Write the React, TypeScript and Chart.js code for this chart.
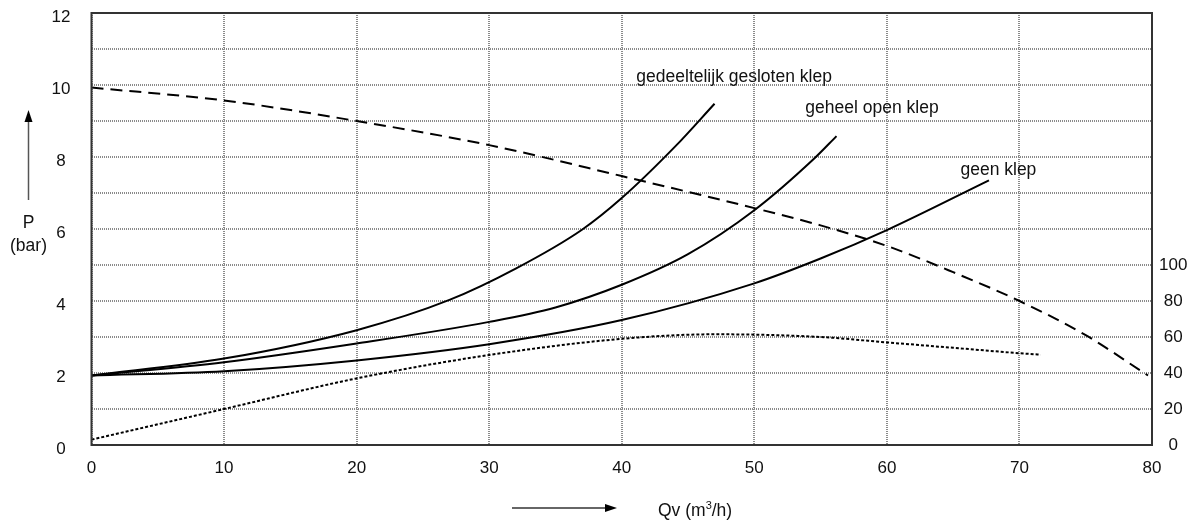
import React, { useEffect, useRef } from 'react';
import { Chart, registerables } from 'chart.js';

Chart.register(...registerables);

// ---- data ----
const pumpFlow = [0, 10, 20, 30, 40, 50, 55, 60, 65, 70, 75, 79.7];
const pumpPressure = [9.93, 9.57, 9.0, 8.33, 7.47, 6.58, 6.1, 5.53, 4.8, 4.0, 3.05, 1.93];

const partlyClosedFlow = [0, 10, 20, 27, 32, 37, 40, 44, 47];
const partlyClosedPressure = [1.93, 2.4, 3.19, 4.03, 4.9, 5.98, 6.86, 8.28, 9.48];

const fullyOpenFlow = [0, 10, 20, 30, 35, 40, 45, 50, 54.5, 56.2];
const fullyOpenPressure = [1.93, 2.3, 2.82, 3.42, 3.82, 4.45, 5.3, 6.52, 7.95, 8.58];

const noValveFlow = [0, 10, 20, 30, 40, 50, 55, 60, 67.7];
const noValvePressure = [1.93, 2.05, 2.35, 2.8, 3.47, 4.49, 5.18, 5.97, 7.35];

const efficiencyFlow = [0, 10, 20, 30, 40, 47, 55, 60, 65, 70, 71.6];
const efficiencyValue = [3, 20, 37, 50, 59, 61.5, 60, 57, 54, 51, 50.2];

const xTicks = [0, 10, 20, 30, 40, 50, 60, 70, 80];
const leftLabels = [0, 2, 4, 6, 8, 10, 12];
const rightLabels = [0, 20, 40, 60, 80, 100];

const curveLabels = ['gedeeltelijk gesloten klep', 'geheel open klep', 'geen klep'];
const curveLabelX = [41.1, 53.85, 65.55];
const curveLabelY = [10.08, 9.23, 7.5];

const xTitle = 'Qv (m';
const xTitleSup = '3';
const xTitleEnd = '/h)';
const yTitle1 = 'P';
const yTitle2 = '(bar)';

const FONT = '"Liberation Sans", Arial, Helvetica, sans-serif';

const toPts = (xs: number[], ys: number[]) => xs.map((x, i) => ({ x, y: ys[i] }));

const noPad = (s: any) => {
  s.paddingTop = 0;
  s.paddingBottom = 0;
  s.paddingLeft = 0;
  s.paddingRight = 0;
};

const decoPlugin = {
  id: 'deco',
  afterDraw(chart: any) {
    const { ctx, chartArea: a, scales } = chart;
    const xs = scales.x;
    const ys = scales.y;
    ctx.save();
    // frame
    ctx.strokeStyle = '#333';
    ctx.lineWidth = 2;
    ctx.strokeRect(a.left, a.top, a.right - a.left, a.bottom - a.top);

    // curve labels
    ctx.fillStyle = '#111';
    ctx.font = `17.5px ${FONT}`;
    ctx.textAlign = 'left';
    ctx.textBaseline = 'alphabetic';
    curveLabels.forEach((t, i) => {
      ctx.fillText(t, xs.getPixelForValue(curveLabelX[i]), ys.getPixelForValue(curveLabelY[i]));
    });

    // y title + arrow
    const yx = a.left - 63;
    ctx.textAlign = 'center';
    ctx.textBaseline = 'middle';
    ctx.fillText(yTitle1, yx, a.top + 210);
    ctx.fillText(yTitle2, yx, a.top + 233);
    ctx.strokeStyle = '#555';
    ctx.lineWidth = 1.5;
    ctx.beginPath();
    ctx.moveTo(yx, a.top + 187);
    ctx.lineTo(yx, a.top + 105);
    ctx.stroke();
    ctx.fillStyle = '#000';
    ctx.beginPath();
    ctx.moveTo(yx, a.top + 97);
    ctx.lineTo(yx - 4, a.top + 109);
    ctx.lineTo(yx + 4, a.top + 109);
    ctx.closePath();
    ctx.fill();

    // x title + arrow
    const ay = a.bottom + 63;
    ctx.strokeStyle = '#666';
    ctx.lineWidth = 2;
    ctx.beginPath();
    ctx.moveTo(512, ay);
    ctx.lineTo(607, ay);
    ctx.stroke();
    ctx.fillStyle = '#000';
    ctx.beginPath();
    ctx.moveTo(617, ay);
    ctx.lineTo(605, ay - 4);
    ctx.lineTo(605, ay + 4);
    ctx.closePath();
    ctx.fill();

    ctx.fillStyle = '#111';
    ctx.textAlign = 'left';
    ctx.textBaseline = 'alphabetic';
    const base = ay + 8;
    let tx = 658;
    ctx.font = `17.5px ${FONT}`;
    ctx.fillText(xTitle, tx, base);
    tx += ctx.measureText(xTitle).width;
    ctx.font = `11px ${FONT}`;
    ctx.fillText(xTitleSup, tx, base - 7);
    tx += ctx.measureText(xTitleSup).width;
    ctx.font = `17.5px ${FONT}`;
    ctx.fillText(xTitleEnd, tx, base);
    ctx.restore();
  },
};

export default function App() {
  const ref = useRef<HTMLCanvasElement | null>(null);

  useEffect(() => {
    if (!ref.current) return;
    const tickFont = { family: FONT, size: 17 };
    const line = (label: string, xs: number[], ys: number[], dash: number[], axis: string) => ({
      label,
      data: toPts(xs, ys),
      borderColor: '#000',
      borderWidth: 2,
      borderDash: dash,
      pointRadius: 0,
      cubicInterpolationMode: 'monotone',
      yAxisID: axis,
    });
    const chart = new Chart(ref.current, {
      type: 'line',
      data: {
        datasets: [
          line('pomp', pumpFlow, pumpPressure, [12, 7], 'y'),
          line(curveLabels[0], partlyClosedFlow, partlyClosedPressure, [], 'y'),
          line(curveLabels[1], fullyOpenFlow, fullyOpenPressure, [], 'y'),
          line(curveLabels[2], noValveFlow, noValvePressure, [], 'y'),
          line('rendement', efficiencyFlow, efficiencyValue, [3, 2], 'y2'),
        ],
      },
      options: {
        animation: false,
        responsive: false,
        devicePixelRatio: 1,
        layout: { padding: { top: 13, left: 0, right: 0, bottom: 0 } },
        plugins: { legend: { display: false }, tooltip: { enabled: false } },
        scales: {
          x: {
            type: 'linear',
            min: xTicks[0],
            max: xTicks[xTicks.length - 1],
            afterBuildTicks: (s: any) => {
              s.ticks = xTicks.map((v) => ({ value: v }));
            },
            afterFit: (s: any) => {
              s.height = 78;
              noPad(s);
            },
            grid: { color: '#8a8a8a', lineWidth: 2, drawTicks: false },
            border: { display: false, dash: [1, 1] },
            ticks: { font: tickFont, color: '#111', padding: 13, maxRotation: 0 },
          },
          y: {
            type: 'linear',
            position: 'left',
            min: 0,
            max: 12,
            ticks: {
              stepSize: 1,
              font: tickFont,
              color: '#111',
              padding: 21,
              crossAlign: 'center',
              labelOffset: 4,
              callback: (v: any) => (leftLabels.includes(Number(v)) ? String(v) : ''),
            },
            afterFit: (s: any) => {
              s.width = 91.5;
              noPad(s);
            },
            grid: { color: '#8a8a8a', lineWidth: 2, drawTicks: false },
            border: { display: false, dash: [1, 1] },
          },
          y2: {
            type: 'linear',
            position: 'right',
            min: 0,
            max: 240,
            ticks: {
              stepSize: 20,
              font: tickFont,
              color: '#111',
              padding: 7,
              crossAlign: 'center',
              callback: (v: any) => (rightLabels.includes(Number(v)) ? String(v) : ''),
            },
            afterFit: (s: any) => {
              s.width = 45;
              noPad(s);
            },
            grid: { display: false, drawTicks: false },
            border: { display: false },
          },
        },
      } as any,
      plugins: [decoPlugin],
    });
    return () => chart.destroy();
  }, []);

  return (
    <div style={{ position: 'absolute', left: 0, top: 0, width: 1197, height: 523, background: '#fff' }}>
      <canvas ref={ref} width={1197} height={523} style={{ display: 'block' }} />
    </div>
  );
}
